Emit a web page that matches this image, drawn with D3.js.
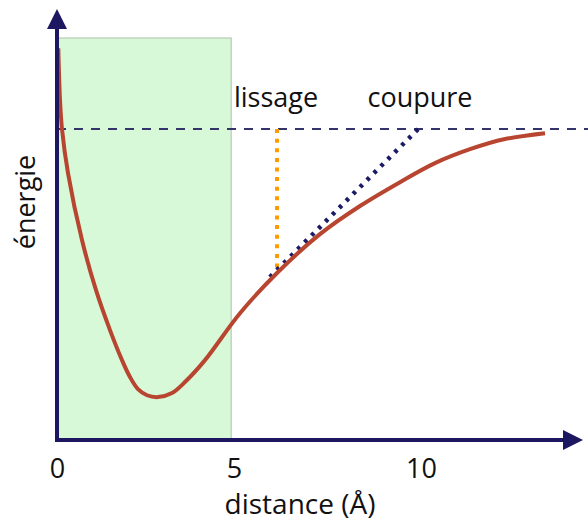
<!DOCTYPE html>
<html><head><meta charset="utf-8">
<script src="https://cdn.jsdelivr.net/npm/d3@7"></script>
<style>
html,body{margin:0;padding:0;background:#fff;}
text{font-family:"Open Sans","DejaVu Sans",sans-serif;fill:#111;}
</style></head>
<body><svg id="c" width="588" height="524"></svg>
<script>
// distance (Å) vs energy (arbitrary units, asymptote = 0, well depth = -1)
const curveDist   = [0.037, 0.085, 0.141, 0.311, 0.706, 1.102, 1.497, 1.836, 2.062, 2.288, 2.542, 2.853, 3.249, 3.644, 4.181, 5.160, 6.150, 7.299, 8.369, 9.439, 10.374, 11.310, 12.246, 13.316];
const curveEnergy = [0.302, 0.108, 0.0, -0.164, -0.414, -0.601, -0.750, -0.862, -0.925, -0.970, -0.993, -1.0, -0.985, -0.940, -0.862, -0.687, -0.537, -0.392, -0.287, -0.198, -0.127, -0.075, -0.037, -0.015];
const xTicks = [0, 5, 10];
const greenZone = [0, 4.92];          // shaded region (distance)
const greenTop = 0.34;                 // top of shaded region (energy)
const asymptote = 0;                   // dashed horizontal line energy
const smoothX = 6.15;                  // "lissage" position
const smoothE = -0.525;
const cutStart = [5.96, -0.552];       // "coupure" dotted line start
const cutEnd = [9.92, 0];              // "coupure" dotted line end
const labels = {smooth: "lissage", cut: "coupure", x: "distance (Å)", y: "énergie"};

const svg = d3.select("#c");
const x = d3.scaleLinear().domain([0, 5, 10]).range([57, 234, 421]);
const y = d3.scaleLinear().domain([-1.16, 0.34]).range([440, 38]);
const navy = "#1c1760";

// shaded region
svg.append("rect")
  .attr("x", x(greenZone[0])).attr("y", y(greenTop))
  .attr("width", x(greenZone[1]) - x(greenZone[0]))
  .attr("height", y(-1.16) - y(greenTop))
  .attr("fill", "#d8f9d8").attr("stroke", "#b8c8b8").attr("stroke-width", 1.2);

// asymptote dashed line
svg.append("line")
  .attr("x1", x(0)).attr("x2", 588)
  .attr("y1", y(asymptote)).attr("y2", y(asymptote))
  .attr("stroke", "#34346a").attr("stroke-width", 2).attr("stroke-dasharray", "9,8");

// smoothing (orange)
svg.append("line")
  .attr("x1", x(smoothX)).attr("x2", x(smoothX))
  .attr("y1", y(asymptote)).attr("y2", y(smoothE))
  .attr("stroke", "#ff9a00").attr("stroke-width", 4).attr("stroke-dasharray", "4,5.6");

// cutoff (navy dotted)
svg.append("line")
  .attr("x1", x(cutStart[0])).attr("y1", y(cutStart[1]))
  .attr("x2", x(cutEnd[0])).attr("y2", y(cutEnd[1]))
  .attr("stroke", "#1a1a66").attr("stroke-width", 4.5).attr("stroke-dasharray", "3.5,6.3");

// curve
const pts = curveDist.map((d, i) => [d, curveEnergy[i]]);
svg.append("path")
  .attr("d", d3.line().x(d => x(d[0])).y(d => y(d[1])).curve(d3.curveCatmullRom.alpha(0.5))(pts))
  .attr("fill", "none").attr("stroke", "#b8452f").attr("stroke-width", 4).attr("stroke-linecap", "butt");

// axes lines with arrows
svg.append("line").attr("x1", 57).attr("x2", 57).attr("y1", 442).attr("y2", 26)
  .attr("stroke", navy).attr("stroke-width", 4);
svg.append("path").attr("d", "M57,9 L67,29 L47,29 Z").attr("fill", navy);
svg.append("line").attr("x1", 55).attr("x2", 566).attr("y1", 440).attr("y2", 440)
  .attr("stroke", navy).attr("stroke-width", 4);
svg.append("path").attr("d", "M583,440 L563,430 L563,450 Z").attr("fill", navy);

// tick labels via d3 axis
const ax = svg.append("g").attr("transform", "translate(0,440)")
  .call(d3.axisBottom(x).tickValues(xTicks).tickSize(0).tickPadding(0).tickFormat(d3.format("d")));
ax.select(".domain").remove();
ax.selectAll("text").attr("y", 38).attr("dy", null)
  .style("font-size", "27px").style("font-family", "'Open Sans', sans-serif").attr("fill", "#111");

// labels
svg.append("text").attr("x", x(smoothX) - 1).attr("y", 107).attr("text-anchor", "middle")
  .style("font-size", "27px").text(labels.smooth);
svg.append("text").attr("x", x(cutEnd[0]) + 2).attr("y", 107).attr("text-anchor", "middle")
  .style("font-size", "27px").text(labels.cut);
svg.append("text").attr("x", 300).attr("y", 514).attr("text-anchor", "middle")
  .style("font-size", "28px").text(labels.x);
svg.append("text").attr("transform", "translate(35,202) rotate(-90)").attr("text-anchor", "middle")
  .style("font-size", "27px").text(labels.y);
</script></body></html>
